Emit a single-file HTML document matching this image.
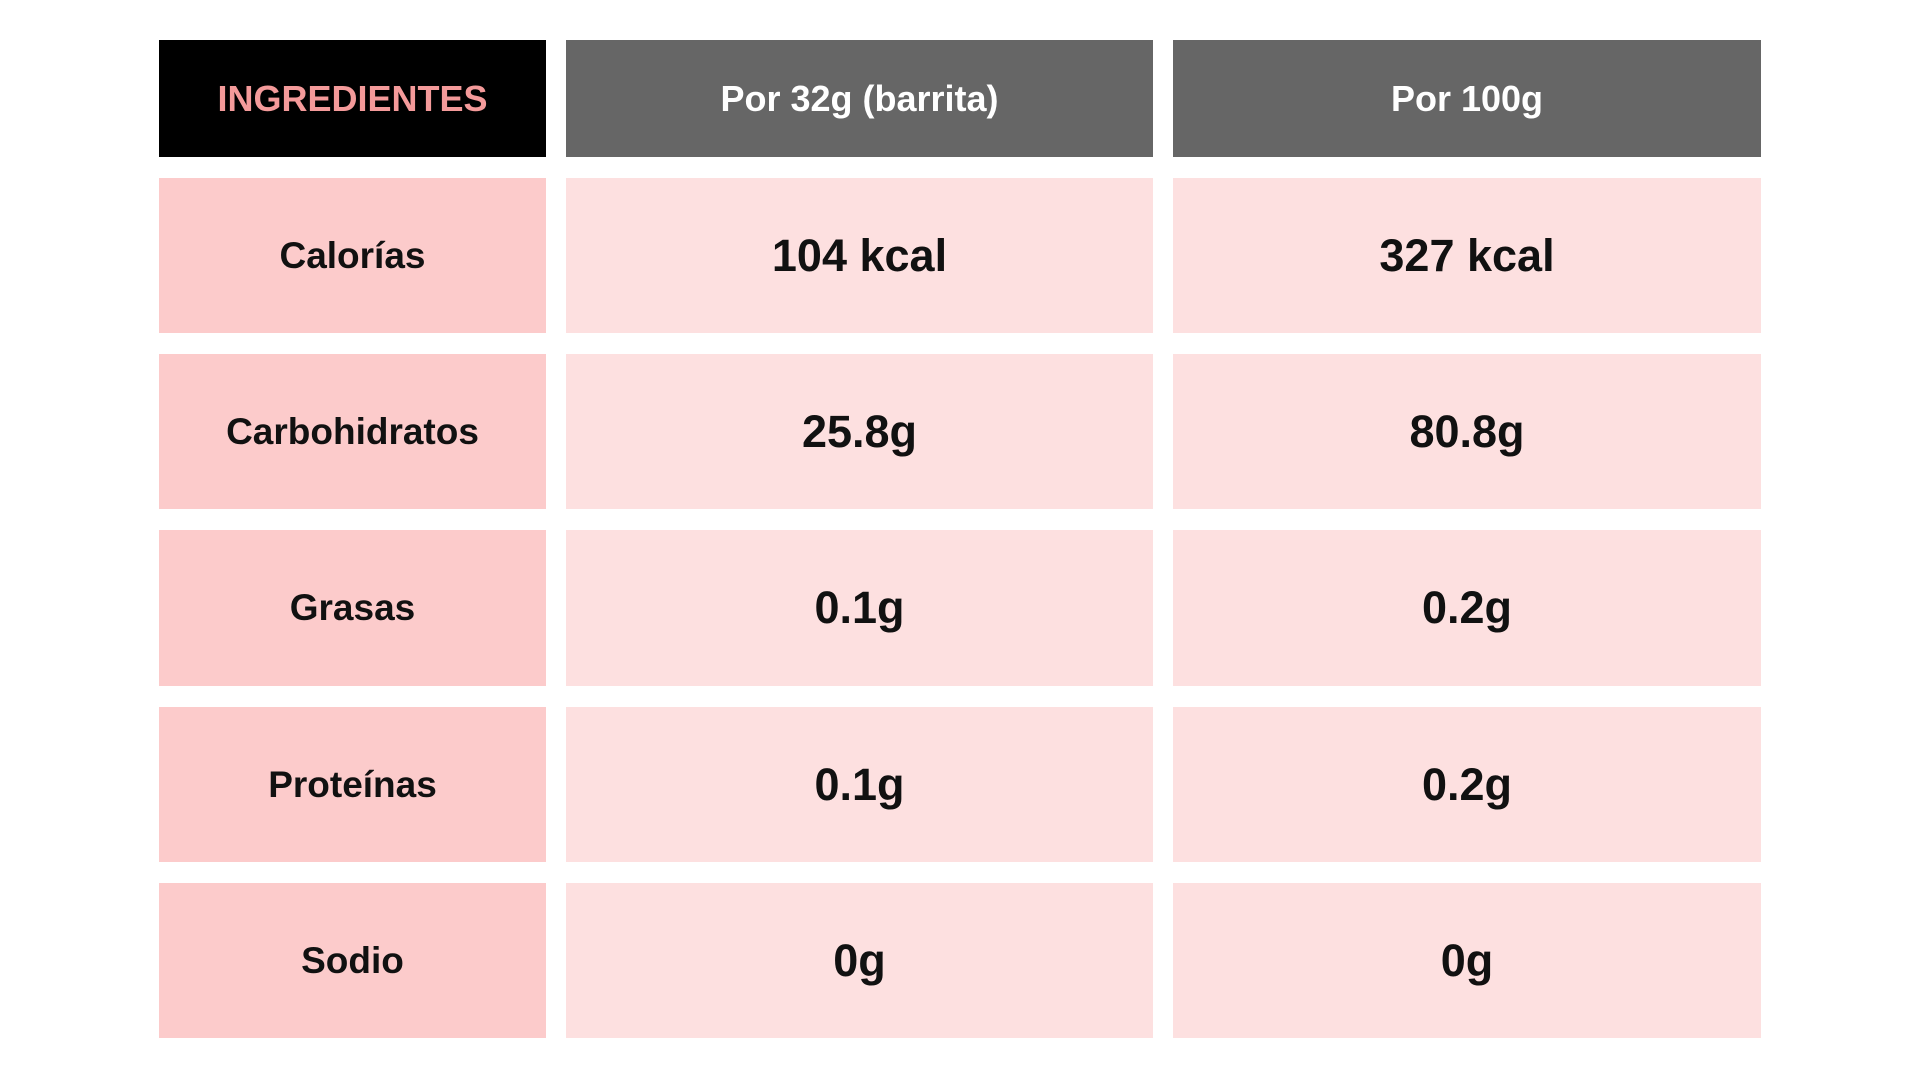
<!DOCTYPE html>
<html><head><meta charset="utf-8"><style>
body{margin:0;width:1920px;height:1080px;background:#fff;position:relative;overflow:hidden;font-family:"Liberation Sans",sans-serif;font-weight:bold}
.c{position:absolute;display:flex;align-items:center;justify-content:center;color:#111}
.h{top:40px;height:117px;font-size:36px;color:#fff}
.l{background:#fccbcb;font-size:37px;left:159px;width:387px}
.v{background:#fde0e0;font-size:45px}
.a{left:566px;width:587px}.b{left:1173px;width:588px}
</style></head><body>
<div class="c h" style="left:159px;width:387px;background:#000;color:#f49a9a">INGREDIENTES</div>
<div class="c h a" style="background:#666">Por 32g (barrita)</div>
<div class="c h b" style="background:#666">Por 100g</div>

<div class="c l" style="top:178px;height:155px">Calorías</div>
<div class="c v a" style="top:178px;height:155px">104 kcal</div>
<div class="c v b" style="top:178px;height:155px">327 kcal</div>

<div class="c l" style="top:354px;height:155px">Carbohidratos</div>
<div class="c v a" style="top:354px;height:155px">25.8g</div>
<div class="c v b" style="top:354px;height:155px">80.8g</div>

<div class="c l" style="top:530px;height:156px">Grasas</div>
<div class="c v a" style="top:530px;height:156px">0.1g</div>
<div class="c v b" style="top:530px;height:156px">0.2g</div>

<div class="c l" style="top:707px;height:155px">Proteínas</div>
<div class="c v a" style="top:707px;height:155px">0.1g</div>
<div class="c v b" style="top:707px;height:155px">0.2g</div>

<div class="c l" style="top:883px;height:155px">Sodio</div>
<div class="c v a" style="top:883px;height:155px">0g</div>
<div class="c v b" style="top:883px;height:155px">0g</div>
</body></html>
